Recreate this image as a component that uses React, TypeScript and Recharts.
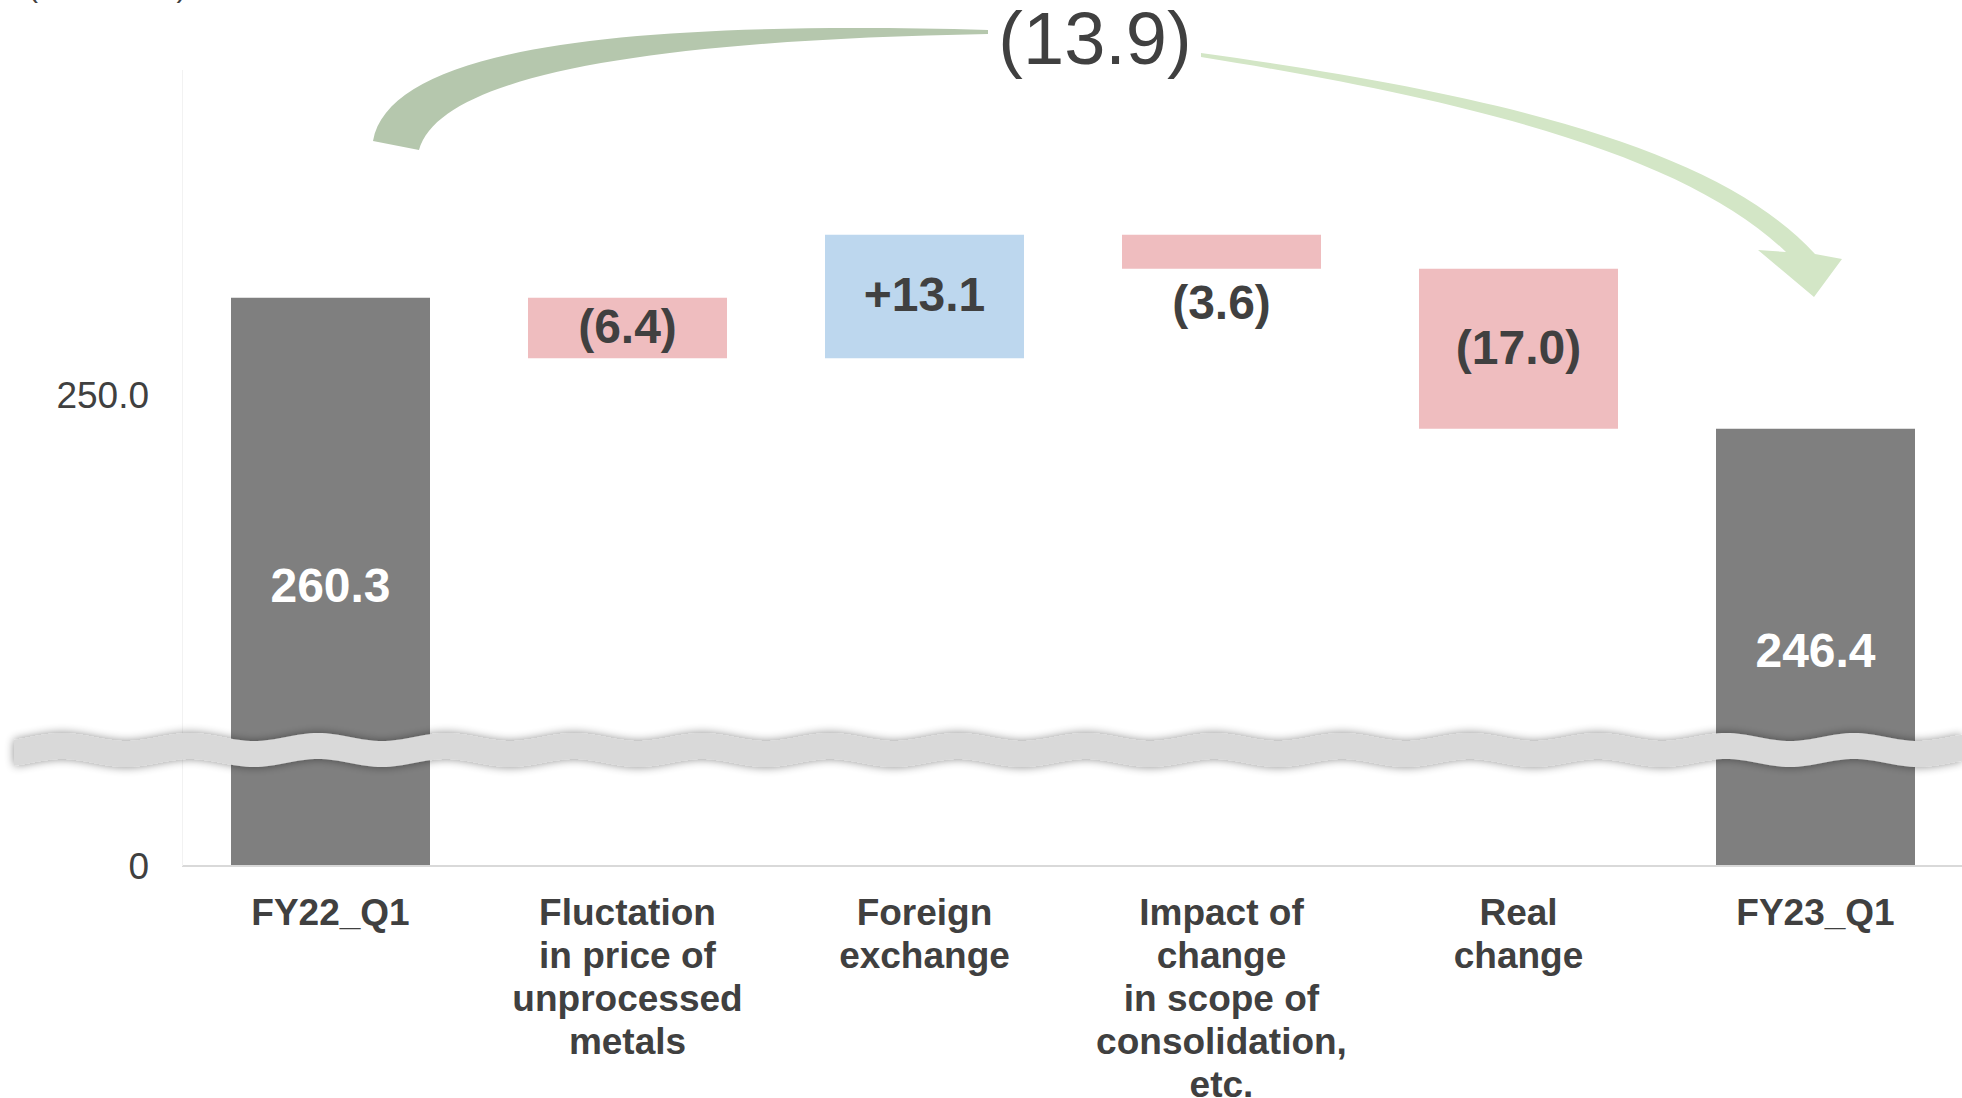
import React from 'react';
import { BarChart, Bar, XAxis, YAxis, Cell, LabelList } from 'recharts';

// ---- data ----
const categories = [
  'FY22_Q1',
  'Fluctation\nin price of\nunprocessed\nmetals',
  'Foreign\nexchange',
  'Impact of\nchange\nin scope of\nconsolidation,\netc.',
  'Real\nchange',
  'FY23_Q1',
];
const startTotal = 260.3;
const changes = [-6.4, 13.1, -3.6, -17.0];
const endTotal = 246.4;
const axisFloor = 200; // value at the broken-axis floor, shown as "0"
const axisCeiling = 290;
const yTicks = [200, 250];
const unitLabel = '(Billion Yen)';

const COLORS: Record<string, string> = {
  total: '#7f7f7f',
  down: '#efbdbf',
  up: '#bdd7ee',
};
const FONT = '"Liberation Sans", Arial, Helvetica, sans-serif';
const TEXT = '#404040';

type Row = { name: string; range: [number, number]; value: number; kind: string };

const data: Row[] = [];
data.push({ name: categories[0], range: [axisFloor, startTotal], value: startTotal, kind: 'total' });
let running = startTotal;
changes.forEach((d, i) => {
  const next = +(running + d).toFixed(1);
  data.push({
    name: categories[i + 1],
    range: [Math.min(running, next), Math.max(running, next)],
    value: d,
    kind: d < 0 ? 'down' : 'up',
  });
  running = next;
});
data.push({ name: categories[5], range: [axisFloor, endTotal], value: endTotal, kind: 'total' });

const totalChange = +(endTotal - startTotal).toFixed(1);
const fmtDelta = (v: number) => (v < 0 ? `(${Math.abs(v).toFixed(1)})` : `+${v.toFixed(1)}`);

const CategoryTick = (props: any) => {
  const { x, y, payload } = props;
  const lines = String(payload.value).split('\n');
  return (
    <text
      x={x}
      y={y + 59}
      textAnchor="middle"
      fill={TEXT}
      fontFamily={FONT}
      fontWeight="bold"
      fontSize={37}
    >
      {lines.map((l, i) => (
        <tspan key={i} x={x} dy={i === 0 ? 0 : 43}>
          {l}
        </tspan>
      ))}
    </text>
  );
};

const ValueTick = (props: any) => {
  const { y, payload } = props;
  const v = payload.value as number;
  const label = v === axisFloor ? '0' : v.toFixed(1);
  return (
    <text x={149} y={y} dy="0.355em" textAnchor="end" fill={TEXT} fontFamily={FONT} fontSize={37}>
      {label}
    </text>
  );
};

const BarLabel = (props: any) => {
  const { x, y, width, height, index } = props;
  const row = data[index];
  if (!row) return null;
  const top = Math.min(y, y + height);
  const h = Math.abs(height);
  const cx = x + width / 2;
  const cy = top + h / 2;
  if (row.kind === 'total') {
    return (
      <text x={cx} y={cy + 20} textAnchor="middle" fill="#ffffff" fontFamily={FONT} fontWeight="bold" fontSize={48}>
        {row.value.toFixed(1)}
      </text>
    );
  }
  const text = fmtDelta(row.value);
  if (h < 45) {
    return (
      <text x={cx} y={top + h + 50} textAnchor="middle" fill={TEXT} fontFamily={FONT} fontWeight="bold" fontSize={48}>
        {text}
      </text>
    );
  }
  return (
    <text x={cx} y={cy + 15} textAnchor="middle" fill={TEXT} fontFamily={FONT} fontWeight="bold" fontSize={48}>
      {text}
    </text>
  );
};

const wavePath = () => {
  const x0 = 14;
  const x1 = 1962;
  const P = 128;
  const A = 4;
  const c = 750;
  const half = 13;
  const ph = 1790;
  const top: string[] = [];
  const bot: string[] = [];
  for (let x = x0; x <= x1; x += 4) {
    const yc = c + A * Math.cos((2 * Math.PI * (x - ph)) / P);
    top.push(`${x},${(yc - half).toFixed(1)}`);
    bot.push(`${x},${(yc + half).toFixed(1)}`);
  }
  return 'M' + top.join(' L') + ' L' + bot.reverse().join(' L') + ' Z';
};

const Overlay = () => (
  <svg
    width={1962}
    height={1098}
    style={{ position: 'absolute', left: 0, top: 0, pointerEvents: 'none' }}
  >
    <defs>
      <filter id="bandShadow" x="-2%" y="-100%" width="104%" height="300%">
        <feGaussianBlur in="SourceAlpha" stdDeviation="5" result="blur" />
        <feComponentTransfer in="blur" result="soft">
          <feFuncA type="linear" slope="0.45" />
        </feComponentTransfer>
        <feMerge>
          <feMergeNode in="soft" />
          <feMergeNode in="SourceGraphic" />
        </feMerge>
      </filter>
    </defs>
    {/* faint y axis line */}
    <line x1={182.5} y1={70} x2={182.5} y2={866} stroke="#f2f2f2" strokeWidth={1} />
    {/* unit label, mostly cut off at top */}
    <text x={28} y={-3.5} fill={TEXT} fontFamily={FONT} fontSize={30}>
      {unitLabel}
    </text>
    {/* axis break band */}
    <path d={wavePath()} fill="#d9d9d9" filter="url(#bandShadow)" />
    {/* left arc */}
    <path
      d="M373,141 C390,48 620,20 988,30 L988,34 C650,40 440,75 419,150 Z"
      fill="#b5c7ad"
    />
    {/* right arrow */}
    <path
      d="M1201,53 C1505,95 1720,150 1815,254 L1842,259 L1814,297 L1758,250 L1786,252 C1690,160 1495,104 1201,57 Z"
      fill="#d3e6c6"
    />
    {/* total change label */}
    <text x={1095} y={64} textAnchor="middle" fill={TEXT} fontFamily={FONT} fontSize={74}>
      {fmtDelta(totalChange)}
    </text>
  </svg>
);

export default function App() {
  return (
    <div
      style={{
        position: 'absolute',
        left: 0,
        top: 0,
        width: 1962,
        height: 1098,
        overflow: 'hidden',
        background: '#ffffff',
      }}
    >
      <BarChart
        width={1964}
        height={1098}
        data={data}
        margin={{ top: 18, right: 0, bottom: 0, left: 0 }}
      >
        <XAxis
          dataKey="name"
          interval={0}
          height={232}
          tickLine={false}
          tickSize={0}
          tickMargin={0}
          axisLine={{ stroke: '#d9d9d9', strokeWidth: 2 }}
          tick={(p: any) => <CategoryTick {...p} />}
        />
        <YAxis
          type="number"
          domain={[axisFloor, axisCeiling]}
          ticks={yTicks}
          width={182}
          axisLine={false}
          tickLine={false}
          tick={(p: any) => <ValueTick {...p} />}
        />
        <Bar dataKey="range" barSize={199} isAnimationActive={false}>
          {data.map((r, i) => (
            <Cell key={i} fill={COLORS[r.kind]} />
          ))}
          <LabelList dataKey="range" content={(p: any) => <BarLabel {...p} />} />
        </Bar>
      </BarChart>
      <Overlay />
    </div>
  );
}
